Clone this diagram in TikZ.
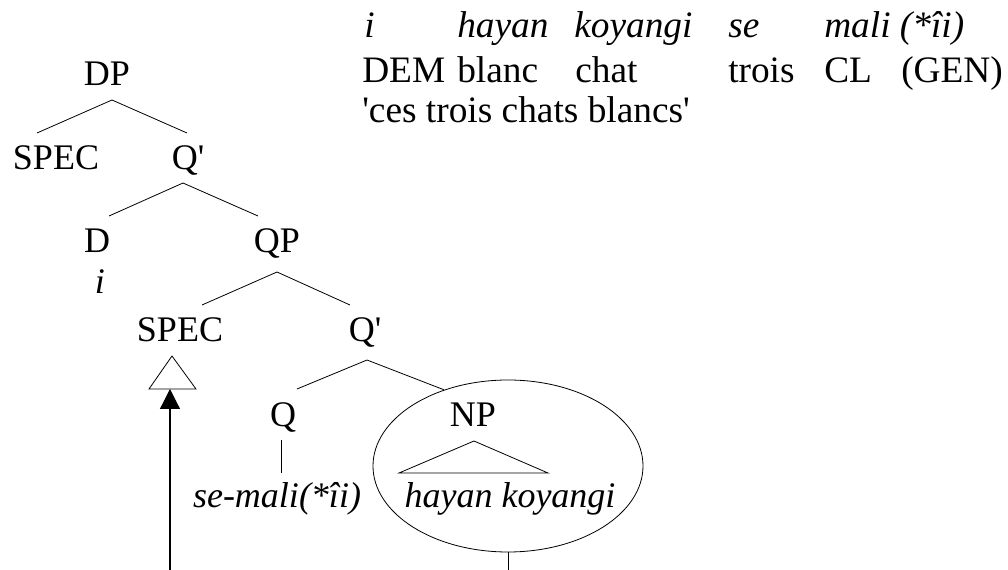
\documentclass[tikz,border=0pt]{standalone}
\usepackage{fontspec}
\setmainfont{Liberation Serif}[Ligatures=TeXOff]
\usetikzlibrary{arrows.meta,shapes.geometric,calc}

\begin{document}
\begin{tikzpicture}[x=0.75pt,y=-0.75pt,
    lab/.style={anchor=base,inner sep=0pt,font=\fontsize{27}{32}\selectfont},
    gl/.style={anchor=base west,inner sep=0pt,font=\fontsize{28}{33}\selectfont},
    branch/.style={line width=0.6pt}]
  \useasboundingbox (0,0) rectangle (1008,570);

  % gloss
  \node[gl] (g1) at (364,38) {\textit{i}};
  \node[gl] (g2) at (457,38) {\textit{hayan}};
  \node[gl] (g3) at (574,38) {\textit{koyangi}};
  \node[gl] (g4) at (728,38) {\textit{se}};
  \node[gl] (g5) at (824,38) {\textit{mali (*îi)}};
  \node[gl] (h1) at (362,83) {DEM};
  \node[gl] (h2) at (457,83) {blanc};
  \node[gl] (h3) at (575,83) {chat};
  \node[gl] (h4) at (728,83) {trois};
  \node[gl] (h5) at (824,83) {CL};
  \node[gl] (h6) at (901,83) {(GEN)};
  \node[gl] (tr) at (362,123) {'ces trois chats blancs'};

  % tree
  \node[lab] (dp) at (107,86) {DP};
  \node[lab] (spec1) at (56,170) {SPEC};
  \node[lab] (q1) at (188,170) {Q'};
  \node[lab] (d) at (97,253) {D};
  \node[lab] (qp) at (277,253) {QP};
  \node[lab] (di) at (100,294) {\textit{i}};
  \node[lab] (spec2) at (180,342) {SPEC};
  \node[lab] (q2) at (365,342) {Q'};
  \node[lab] (q) at (283,427) {Q};
  \node[lab] (np) at (473,427) {NP};
  \node[lab] (semali) at (277,508) {\textit{se-mali(*îi)}};
  \node[lab] (hk) at (510,508) {\textit{hayan koyangi}};
  \node[draw,ellipse,inner sep=0pt,minimum width=202.5pt,minimum height=129pt,
    line width=0.6pt] (npell) at (508,466) {};

  \draw[branch] ($(spec1.base)+(-19,-37)$) -- ($(dp.base)+(5,14)$) -- ($(q1.base)+(-1,-37)$);
  \draw[branch] ($(d.base)+(12,-37)$) -- ($(q1.base)+(-5,13)$) -- ($(qp.base)+(-19,-37)$);
  \draw[branch] ($(spec2.base)+(22,-37)$) -- ($(qp.base)+(0,19)$) -- ($(q2.base)+(-15,-37)$);
  \draw[branch] ($(q.base)+(14,-38)$) -- ($(q2.base)+(2,18)$) -- (npell.130);
  \draw[branch] ($(q.base)+(-2,13)$) -- ($(semali.base)+(4,-35)$);
  \draw[branch] ($(np.base)+(-74,46)$) -- ($(np.base)+(1,14)$) -- ($(np.base)+(75,46)$) -- cycle;
  \draw[branch] ($(spec2.base)+(-31,47)$) -- ($(spec2.base)+(-8,14)$) -- ($(spec2.base)+(16,47)$) -- cycle;

  \coordinate (trib) at ($(spec2.base)+(-10,47)$);
  \coordinate (foot) at (170,570);
  \coordinate (npfoot) at (508,570);
  \draw[line width=0.9pt,-{Triangle[length=15pt,width=15pt]}] (foot) -- (trib);
  \draw[branch] (npell.south) -- (npfoot);
\end{tikzpicture}
\end{document}
